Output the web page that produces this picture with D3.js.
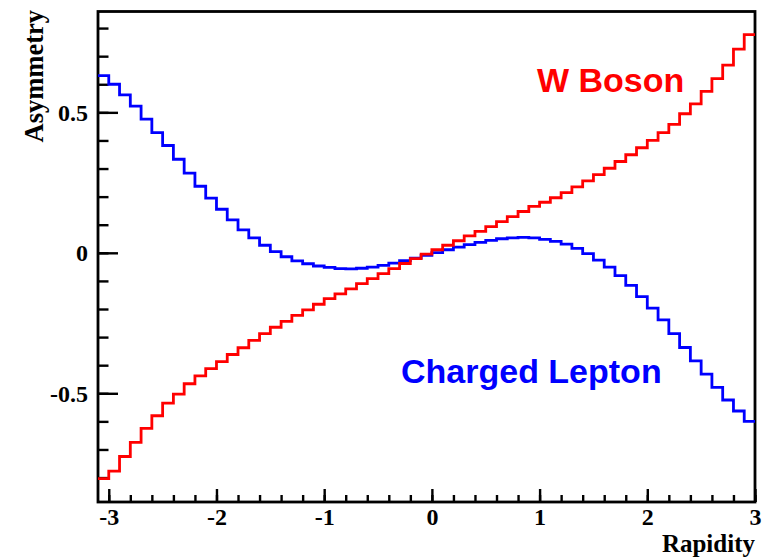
<!DOCTYPE html>
<html>
<head>
<meta charset="utf-8">
<script src="https://cdn.jsdelivr.net/npm/d3@7/dist/d3.min.js"></script>
<style>
  html, body { margin: 0; padding: 0; background: #ffffff; }
  svg { display: block; }
</style>
</head>
<body>
<svg id="chart" width="763" height="557"></svg>
<script>
// Rapidity bins: 0.1 wide, lower edge from -3.1 up to the last upper edge at 3.0
const binEdges = d3.range(-31, 31).map(k => k / 10);

// W boson charge asymmetry per rapidity bin
const wBoson = [
  -0.804, -0.777, -0.725, -0.675, -0.625, -0.580, -0.535, -0.503, -0.466, -0.438,
  -0.412, -0.387, -0.362, -0.338, -0.312, -0.288, -0.265, -0.244, -0.223, -0.203,
  -0.183, -0.163, -0.146, -0.128, -0.110, -0.092, -0.074, -0.056, -0.038, -0.021,
  -0.005,  0.011,  0.027,  0.043,  0.060,  0.076,  0.093,  0.111,  0.129,  0.147,
   0.165,  0.180,  0.196,  0.214,  0.235,  0.256,  0.278,  0.301,  0.325,  0.349,
   0.374,  0.400,  0.428,  0.457,  0.495,  0.530,  0.575,  0.620,  0.668,  0.725,
   0.777
];

// Charged lepton asymmetry per rapidity bin
const chargedLepton = [
   0.631,  0.600,  0.562,  0.522,  0.476,  0.428,  0.382,  0.333,  0.284,  0.237,
   0.195,  0.155,  0.117,  0.082,  0.053,  0.027,  0.004, -0.014, -0.029, -0.039,
  -0.047, -0.052, -0.056, -0.057, -0.055, -0.051, -0.045, -0.037, -0.028, -0.019,
  -0.009,  0.001,  0.011,  0.020,  0.029,  0.037,  0.044,  0.050,  0.053,  0.055,
   0.053,  0.048,  0.041,  0.031,  0.016, -0.003, -0.026, -0.051, -0.081, -0.116,
  -0.156, -0.197, -0.239, -0.288, -0.337, -0.385, -0.432, -0.479, -0.524, -0.563,
  -0.600
];

// Axis ticks and their labels
const xMajorTicks = [-3, -2, -1, 0, 1, 2, 3];
const xTickLabels = ["-3", "-2", "-1", "0", "1", "2", "3"];
const xMinorTicks = [-3, -2.8, -2.6, -2.4, -2.2, -2, -1.8, -1.6, -1.4, -1.2, -1, -0.8, -0.6, -0.4, -0.2,
                     0, 0.2, 0.4, 0.6, 0.8, 1, 1.2, 1.4, 1.6, 1.8, 2, 2.2, 2.4, 2.6, 2.8, 3];
const yMajorTicks = [-0.5, 0, 0.5];
const yTickLabels = ["-0.5", "0", "0.5"];
const yMinorTicks = [-0.8, -0.7, -0.6, -0.5, -0.4, -0.3, -0.2, -0.1, 0, 0.1, 0.2, 0.3, 0.4, 0.5, 0.6, 0.7, 0.8];

const frame = { left: 98, top: 11.5, right: 755, bottom: 502 };
const svg = d3.select("#chart");

const x = d3.scaleLinear().domain([-3.1, 3.0]).range([frame.left, frame.right]);
const y = d3.scaleLinear().domain([-0.887, 0.859]).range([frame.bottom, frame.top]);

const serif = "'Liberation Serif', 'Times New Roman', serif";
const sans = "'Liberation Sans', Arial, Helvetica, sans-serif";

// Minor ticks (pointing into the frame)
svg.append("g")
  .attr("transform", `translate(${frame.left},0)`)
  .call(d3.axisLeft(y).tickValues(yMinorTicks).tickSize(-10.5).tickFormat(""))
  .call(g => g.select(".domain").remove())
  .call(g => g.selectAll("line").attr("stroke", "#000").attr("stroke-width", 2.4));

svg.append("g")
  .attr("transform", `translate(0,${frame.bottom})`)
  .call(d3.axisBottom(x).tickValues(xMinorTicks).tickSize(-7).tickFormat(""))
  .call(g => g.select(".domain").remove())
  .call(g => g.selectAll("line").attr("stroke", "#000").attr("stroke-width", 2.4));

// Major ticks with labels
svg.append("g")
  .attr("transform", `translate(${frame.left},0)`)
  .call(d3.axisLeft(y).tickValues(yMajorTicks).tickSize(-20).tickPadding(10)
        .tickFormat((d, i) => yTickLabels[i]))
  .call(g => g.select(".domain").remove())
  .call(g => g.selectAll("line").attr("stroke", "#000").attr("stroke-width", 2.4))
  .call(g => g.selectAll("text")
      .attr("fill", "#000")
      .attr("font-family", serif)
      .attr("font-weight", "bold")
      .attr("font-size", 24)
      .attr("dy", "0.34em"));

svg.append("g")
  .attr("transform", `translate(0,${frame.bottom})`)
  .call(d3.axisBottom(x).tickValues(xMajorTicks).tickSize(-13).tickPadding(6)
        .tickFormat((d, i) => xTickLabels[i]))
  .call(g => g.select(".domain").remove())
  .call(g => g.selectAll("line").attr("stroke", "#000").attr("stroke-width", 2.4))
  .call(g => g.selectAll("text")
      .attr("fill", "#000")
      .attr("font-family", serif)
      .attr("font-weight", "bold")
      .attr("font-size", 24)
      .attr("dy", "0.72em"));

// Frame
svg.append("rect")
  .attr("x", frame.left)
  .attr("y", frame.top)
  .attr("width", frame.right - frame.left)
  .attr("height", frame.bottom - frame.top)
  .attr("fill", "none")
  .attr("stroke", "#000")
  .attr("stroke-width", 2.8);

// Step outline of a binned series
function stepPoints(values) {
  const pts = values.map((v, i) => [binEdges[i], v]);
  pts.push([binEdges[values.length - 1] + 0.1, values[values.length - 1]]);
  return pts;
}
const stepLine = d3.line()
  .x(d => x(d[0]))
  .y(d => y(d[1]))
  .curve(d3.curveStepAfter);

svg.append("path")
  .datum(stepPoints(chargedLepton))
  .attr("d", stepLine)
  .attr("fill", "none")
  .attr("stroke", "#0000ff")
  .attr("stroke-width", 2.8);

svg.append("path")
  .datum(stepPoints(wBoson))
  .attr("d", stepLine)
  .attr("fill", "none")
  .attr("stroke", "#ff0000")
  .attr("stroke-width", 2.8);

// Axis titles
svg.append("text")
  .attr("x", frame.right)
  .attr("y", 552)
  .attr("text-anchor", "end")
  .attr("font-family", serif)
  .attr("font-weight", "bold")
  .attr("font-size", 25)
  .attr("fill", "#000")
  .text("Rapidity");

svg.append("text")
  .attr("transform", "translate(43,10) rotate(-90)")
  .attr("text-anchor", "end")
  .attr("font-family", serif)
  .attr("font-weight", "bold")
  .attr("font-size", 26.5)
  .attr("fill", "#000")
  .text("Asymmetry");

// Series labels
svg.append("text")
  .attr("x", 537)
  .attr("y", 92)
  .attr("font-family", sans)
  .attr("font-weight", "bold")
  .attr("font-size", 34)
  .attr("fill", "#ff0000")
  .text("W Boson");

svg.append("text")
  .attr("x", 401)
  .attr("y", 383)
  .attr("font-family", sans)
  .attr("font-weight", "bold")
  .attr("font-size", 34)
  .attr("fill", "#0000ff")
  .text("Charged Lepton");
</script>
</body>
</html>
